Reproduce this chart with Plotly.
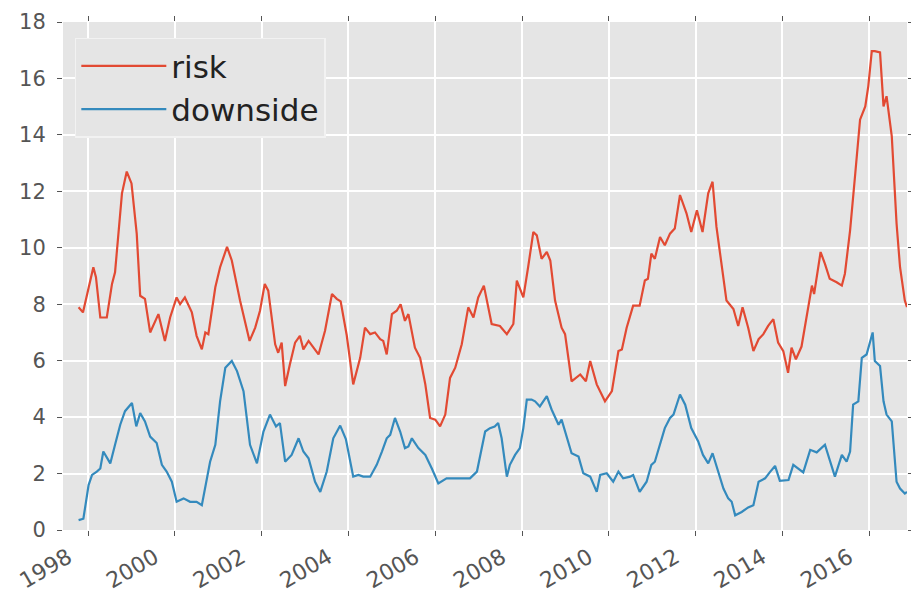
import pandas as pd
import plotly.graph_objects as go

# decimal-year positions and values
risk_t = [1997.78, 1997.88, 1998.12, 1998.18, 1998.28, 1998.43, 1998.55, 1998.62, 1998.78, 1998.89,
          1999.00, 1999.12, 1999.20, 1999.31, 1999.43, 1999.62, 1999.77, 1999.89, 2000.04, 2000.12,
          2000.23, 2000.39, 2000.50, 2000.62, 2000.70, 2000.77, 2000.93, 2001.04, 2001.20, 2001.31,
          2001.50, 2001.72, 2001.85, 2001.96, 2002.07, 2002.15, 2002.31, 2002.38, 2002.46, 2002.54,
          2002.65, 2002.77, 2002.88, 2002.96, 2003.08, 2003.31, 2003.46, 2003.62, 2003.73, 2003.82,
          2003.96, 2004.11, 2004.27, 2004.38, 2004.50, 2004.61, 2004.73, 2004.80, 2004.88, 2005.00,
          2005.11, 2005.20, 2005.30, 2005.38, 2005.53, 2005.65, 2005.77, 2005.88, 2006.00, 2006.11,
          2006.23, 2006.34, 2006.46, 2006.61, 2006.76, 2006.88, 2006.99, 2007.12, 2007.30, 2007.49,
          2007.65, 2007.80, 2007.88, 2008.03, 2008.14, 2008.26, 2008.34, 2008.45, 2008.57, 2008.65,
          2008.76, 2008.91, 2008.99, 2009.14, 2009.34, 2009.47, 2009.57, 2009.72, 2009.91, 2010.07,
          2010.22, 2010.30, 2010.41, 2010.56, 2010.71, 2010.83, 2010.90, 2010.98, 2011.06, 2011.18,
          2011.29, 2011.41, 2011.52, 2011.64, 2011.79, 2011.90, 2012.03, 2012.16, 2012.29, 2012.39,
          2012.48, 2012.60, 2012.71, 2012.87, 2012.98, 2013.08, 2013.21, 2013.33, 2013.45, 2013.56,
          2013.67, 2013.79, 2013.90, 2014.02, 2014.13, 2014.21, 2014.31, 2014.44, 2014.56, 2014.68,
          2014.73, 2014.88, 2014.98, 2015.09, 2015.25, 2015.37, 2015.44, 2015.56, 2015.68, 2015.79,
          2015.91, 2015.98, 2016.06, 2016.13, 2016.25, 2016.33, 2016.40, 2016.52, 2016.63, 2016.71,
          2016.82, 2016.87]
risk = [7.89, 7.71, 9.31, 8.96, 7.53, 7.53, 8.72, 9.13, 11.93, 12.70,
        12.28, 10.50, 8.30, 8.19, 7.00, 7.65, 6.70, 7.53, 8.24, 8.00,
        8.24, 7.71, 6.88, 6.40, 7.00, 6.94, 8.60, 9.31, 10.03, 9.55,
        8.13, 6.70, 7.17, 7.77, 8.72, 8.48, 6.58, 6.28, 6.64, 5.10,
        5.87, 6.64, 6.88, 6.40, 6.70, 6.22, 7.06, 8.36, 8.19, 8.10,
        6.90, 5.16, 6.10, 7.17, 6.94, 7.00, 6.76, 6.70, 6.22, 7.65,
        7.77, 8.00, 7.41, 7.65, 6.46, 6.10, 5.16, 3.97, 3.91, 3.67,
        4.09, 5.39, 5.75, 6.58, 7.89, 7.53, 8.24, 8.66, 7.30, 7.23,
        6.94, 7.30, 8.84, 8.24, 9.31, 10.56, 10.44, 9.61, 9.85, 9.55,
        8.13, 7.17, 6.94, 5.27, 5.51, 5.27, 5.99, 5.16, 4.56, 4.92,
        6.34, 6.40, 7.17, 7.95, 7.95, 8.84, 8.90, 9.79, 9.61, 10.38,
        10.09, 10.50, 10.68, 11.87, 11.22, 10.56, 11.33, 10.56, 11.93, 12.34,
        10.74, 9.31, 8.13, 7.83, 7.23, 7.89, 7.17, 6.34, 6.76, 6.94,
        7.23, 7.47, 6.64, 6.34, 5.57, 6.46, 6.05, 6.50, 7.53, 8.66,
        8.36, 9.85, 9.43, 8.90, 8.78, 8.66, 9.08, 10.62, 12.64, 14.54,
        15.01, 15.73, 16.97, 16.97, 16.92, 15.01, 15.37, 13.95, 10.86, 9.31,
        8.13, 7.90]

down_t = [1997.78, 1997.89, 1998.01, 1998.09, 1998.20, 1998.28, 1998.35, 1998.51, 1998.62, 1998.74,
          1998.85, 1999.01, 1999.11, 1999.20, 1999.31, 1999.43, 1999.58, 1999.70, 1999.81, 1999.93,
          2000.04, 2000.20, 2000.35, 2000.50, 2000.62, 2000.81, 2000.93, 2001.04, 2001.16, 2001.31,
          2001.43, 2001.58, 2001.73, 2001.89, 2002.04, 2002.19, 2002.33, 2002.42, 2002.54, 2002.69,
          2002.85, 2002.96, 2003.08, 2003.23, 2003.35, 2003.50, 2003.65, 2003.81, 2003.94, 2004.06,
          2004.11, 2004.23, 2004.34, 2004.50, 2004.65, 2004.77, 2004.88, 2004.96, 2005.07, 2005.19,
          2005.30, 2005.38, 2005.46, 2005.61, 2005.77, 2005.92, 2006.07, 2006.26, 2006.50, 2006.80,
          2006.96, 2007.07, 2007.15, 2007.26, 2007.37, 2007.45, 2007.53, 2007.65, 2007.72, 2007.84,
          2007.95, 2008.03, 2008.11, 2008.22, 2008.30, 2008.41, 2008.57, 2008.68, 2008.84, 2008.91,
          2009.03, 2009.14, 2009.30, 2009.41, 2009.57, 2009.72, 2009.80, 2009.95, 2010.10, 2010.22,
          2010.33, 2010.49, 2010.56, 2010.71, 2010.87, 2010.98, 2011.06, 2011.18, 2011.29, 2011.41,
          2011.49, 2011.64, 2011.76, 2011.90, 2012.06, 2012.17, 2012.29, 2012.39, 2012.52, 2012.64,
          2012.75, 2012.83, 2012.91, 2013.06, 2013.21, 2013.33, 2013.45, 2013.60, 2013.71, 2013.83,
          2013.94, 2014.14, 2014.25, 2014.48, 2014.64, 2014.79, 2014.98, 2015.21, 2015.37, 2015.48,
          2015.56, 2015.63, 2015.75, 2015.83, 2015.94, 2016.01, 2016.08, 2016.13, 2016.25, 2016.33,
          2016.40, 2016.52, 2016.63, 2016.71, 2016.82, 2016.87]
downside = [0.35, 0.40, 1.59, 1.95, 2.07, 2.18, 2.78, 2.36, 3.02, 3.73,
            4.21, 4.50, 3.67, 4.14, 3.85, 3.31, 3.08, 2.31, 2.07, 1.71,
            1.00, 1.12, 1.00, 1.00, 0.88, 2.42, 3.02, 4.56, 5.75, 5.99,
            5.63, 4.92, 3.02, 2.36, 3.49, 4.09, 3.67, 3.79, 2.42, 2.66,
            3.25, 2.78, 2.54, 1.71, 1.35, 2.07, 3.25, 3.70, 3.22, 2.30,
            1.89, 1.95, 1.89, 1.89, 2.31, 2.78, 3.25, 3.37, 3.97, 3.49,
            2.90, 2.96, 3.25, 2.90, 2.66, 2.18, 1.65, 1.83, 1.83, 1.83,
            2.07, 2.90, 3.49, 3.61, 3.67, 3.79, 3.25, 1.89, 2.31, 2.66,
            2.90, 3.61, 4.62, 4.62, 4.56, 4.38, 4.74, 4.27, 3.73, 3.91,
            3.25, 2.72, 2.60, 2.01, 1.89, 1.35, 1.95, 2.01, 1.71, 2.07,
            1.83, 1.89, 1.95, 1.35, 1.71, 2.31, 2.42, 3.02, 3.61, 3.97,
            4.09, 4.80, 4.44, 3.61, 3.14, 2.66, 2.36, 2.72, 2.07, 1.47,
            1.12, 1.00, 0.52, 0.64, 0.80, 0.88, 1.71, 1.83, 2.05, 2.27,
            1.74, 1.77, 2.31, 2.04, 2.84, 2.75, 3.02, 1.89, 2.66, 2.42,
            2.78, 4.44, 4.56, 6.10, 6.22, 6.58, 7.00, 5.99, 5.81, 4.56,
            4.09, 3.85, 1.71, 1.47, 1.29, 1.35]

tick_years = [1998, 2000, 2002, 2004, 2006, 2008, 2010, 2012, 2014, 2016]
y_ticks = [0, 2, 4, 6, 8, 10, 12, 14, 16, 18]
x_range_years = [1997.42, 2016.87]


def to_date(y):
    yr = int(y)
    start = pd.Timestamp(year=yr, month=1, day=1)
    end = pd.Timestamp(year=yr + 1, month=1, day=1)
    return start + (end - start) * (y - yr)


risk_x = [to_date(v) for v in risk_t]
down_x = [to_date(v) for v in down_t]

TXT = "#555555"
fig = go.Figure()
fig.add_trace(go.Scatter(x=risk_x, y=risk, mode="lines", name="risk",
                         line=dict(color="#E24A33", width=2.2)))
fig.add_trace(go.Scatter(x=down_x, y=downside, mode="lines", name="downside",
                         line=dict(color="#348ABD", width=2.2)))

fig.update_layout(
    width=911, height=604,
    margin=dict(l=63, r=4, t=22, b=74),
    paper_bgcolor="white",
    plot_bgcolor="#E5E5E5",
    font=dict(family="DejaVu Sans", color=TXT, size=20),
    showlegend=True,
    legend=dict(x=0.014, y=0.969, xanchor="left", yanchor="top",
                bgcolor="#E5E5E5", bordercolor="#F2F2F2", borderwidth=1.5,
                font=dict(size=31, color="#222222"), itemwidth=85),
)
fig.update_xaxes(
    type="date", automargin=False,
    range=[to_date(x_range_years[0]), to_date(x_range_years[1])],
    tickvals=[f"{y}-01-01" for y in tick_years],
    ticktext=[str(y) for y in tick_years],
    tickangle=-30, ticklabelshift=-20,
    showgrid=True, gridcolor="white", gridwidth=1.5,
    zeroline=False, showline=True, linecolor="rgba(0,0,0,0)",
    ticks="outside", ticklen=5, tickcolor="#555555", tickwidth=1,
    mirror="ticks",
    tickfont=dict(size=22, color=TXT),
)
fig.update_yaxes(
    automargin=False,
    range=[0, 18],
    tickvals=y_ticks,
    ticktext=[str(v) for v in y_ticks],
    showgrid=True, gridcolor="white", gridwidth=1.5,
    zeroline=False, showline=True, linecolor="rgba(0,0,0,0)",
    ticks="outside", ticklen=5, tickcolor="#555555", tickwidth=1,
    mirror="ticks", ticklabelstandoff=7,
    tickfont=dict(size=21, color=TXT),
)

fig.write_html("out.html", config={"displayModeBar": False},
               post_script="document.body.style.margin='0px';")
